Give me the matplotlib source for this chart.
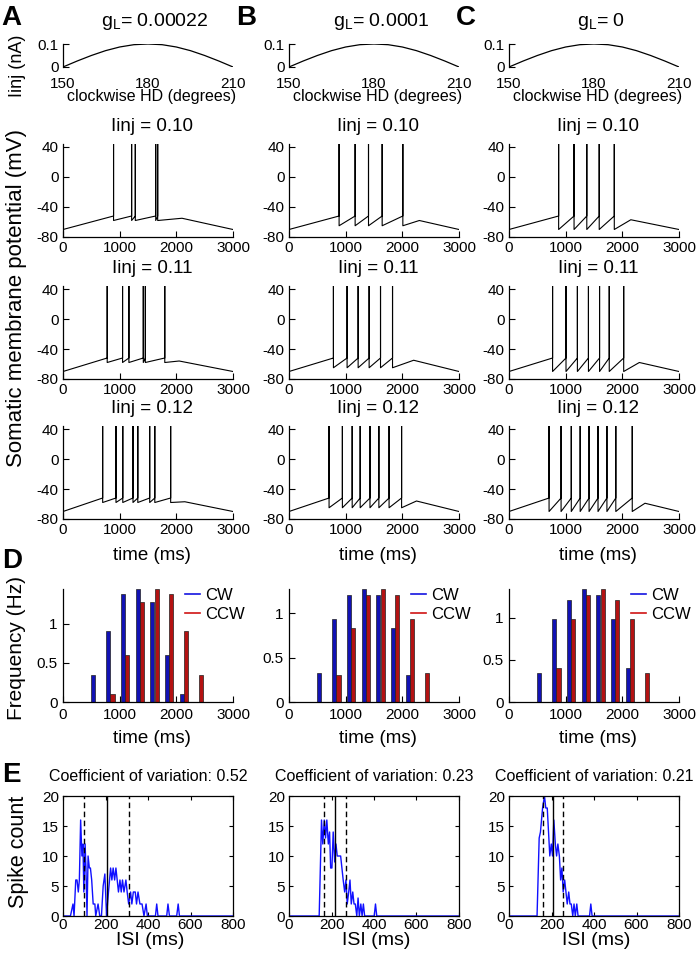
import matplotlib
matplotlib.use('Agg')
import matplotlib.pyplot as plt
from matplotlib.lines import Line2D

plt.rcParams['font.family'] = ['Liberation Sans', 'DejaVu Sans']
plt.rcParams['axes.unicode_minus'] = False

# ---------------- data ----------------
col_titles = ['g$_\\mathregular{L}$= 0.00022', 'g$_\\mathregular{L}$= 0.0001', 'g$_\\mathregular{L}$= 0']
panel_letters = ['A', 'B', 'C']
row_titles = ['Iinj = 0.10', 'Iinj = 0.11', 'Iinj = 0.12']

# injected current vs head direction
hd_deg = [150, 155, 160, 165, 170, 175, 180, 185, 190, 195, 200, 205, 210]
iinj_na = [0.0, 0.026, 0.05, 0.071, 0.087, 0.097, 0.1, 0.097, 0.087, 0.071, 0.05, 0.026, 0.0]

# spike times (ms) for each column [A, B, C], each row Iinj 0.10/0.11/0.12
spikes_a = [[892, 1211, 1276, 1636, 1671],
            [780, 1051, 1163, 1417, 1453, 1796],
            [700, 935, 1055, 1235, 1320, 1530, 1620, 1900]]
spikes_b = [[884, 1167, 1403, 1644, 2009],
            [784, 1025, 1220, 1414, 1615, 1827],
            [707, 942, 1115, 1256, 1429, 1586, 1766, 1987]]
spikes_c = [[876, 1148, 1373, 1592, 1858],
            [769, 1006, 1207, 1402, 1598, 1769, 2024],
            [707, 919, 1099, 1256, 1413, 1571, 1728, 1885, 2175]]
spikes_all = [spikes_a, spikes_b, spikes_c]

v_rest = -70
v_thr = -52
v_peak = 44
v_reset = [-58, -65, -70]            # per column
bump_t = [[2100, 2050, 2150], [2300, 2200, 2250], [2150, 2300, 2400]]
bump_v = [[-55, -56, -57], [-58, -55, -56], [-57, -58, -59]]

# firing-rate histograms (D)
bin_centers = [575, 835, 1095, 1355, 1615, 1875, 2135, 2395]
cw_a = [0.34, 0.90, 1.37, 1.44, 1.27, 0.60, 0.10, 0]
ccw_a = [0, 0.10, 0.60, 1.27, 1.44, 1.37, 0.90, 0.34]
cw_b = [0.33, 0.93, 1.20, 1.27, 1.20, 0.83, 0.30, 0]
ccw_b = [0, 0.30, 0.83, 1.20, 1.27, 1.20, 0.93, 0.33]
cw_c = [0.34, 0.98, 1.21, 1.34, 1.27, 0.98, 0.40, 0]
ccw_c = [0, 0.40, 0.98, 1.27, 1.34, 1.21, 0.98, 0.34]
cw_all = [cw_a, cw_b, cw_c]
ccw_all = [ccw_a, ccw_b, ccw_c]

# ISI histograms (E)
isi_a_x = [0, 35, 47, 52, 60, 66, 72, 77, 83, 89, 94, 98, 104, 108, 113, 118, 124, 129, 135,
           142, 150, 154, 165, 173, 181, 189, 197, 205, 214, 224, 230, 236, 243, 249, 255, 261,
           268, 274, 280, 287, 296, 302, 309, 318, 324, 331, 340, 346, 353, 362, 372, 381, 391,
           397, 435, 441, 447, 488, 494, 501, 535, 542, 548, 800]
isi_a_y = [0, 0, 2, 0, 6, 6, 4, 6, 16, 10, 12, 4, 12, 8, 0, 10, 8, 8, 6,
           2, 2, 0, 2, 0, 0, 5, 7, 0, 4, 8, 6, 8, 6, 8, 6, 4,
           6, 4, 6, 4, 6, 4, 2, 4, 2, 4, 4, 2, 4, 2, 2, 0, 2,
           0, 0, 2, 0, 0, 2, 0, 0, 2, 0, 0]
isi_b_x = [0, 142, 153, 159, 166, 172, 178, 185, 191, 196, 202, 208, 215, 221, 227, 243, 255,
           262, 268, 274, 281, 287, 293, 300, 306, 312, 319, 325, 331, 338, 344, 350, 356, 401,
           407, 413, 800]
isi_b_y = [0, 0, 16, 12, 16, 13, 16, 12, 14, 8, 8, 14, 9, 12, 10, 10, 6,
           4, 6, 2, 4, 6, 2, 4, 2, 2, 0, 3, 0, 2, 0, 2, 0, 0,
           2, 0, 0]
isi_c_x = [0, 132, 142, 148, 158, 167, 173, 180, 186, 192, 199, 205, 211, 218, 224, 230, 237,
           243, 249, 255, 262, 268, 274, 281, 287, 293, 300, 306, 312, 319, 325, 379, 385, 391, 800]
isi_c_y = [0, 0, 13, 14, 18, 20, 18, 18, 14, 10, 12, 10, 16, 12, 10, 12, 10,
           6, 8, 4, 6, 4, 2, 4, 2, 2, 0, 2, 0, 2, 0, 0, 2, 0, 0]
isi_x_all = [isi_a_x, isi_b_x, isi_c_x]
isi_y_all = [isi_a_y, isi_b_y, isi_c_y]
isi_mean = [205, 216, 208]
isi_std = [105, 50, 46]
cv_labels = ['0.52', '0.23', '0.21']

# ---------------- figure ----------------
W, H = 697, 957
fig = plt.figure(figsize=(W / 100, H / 100), dpi=100)


def add_ax(l, t, w, h):
    return fig.add_axes([l / W, 1 - (t + h) / H, w / W, h / H])


def ftext(x, y, s, **kw):
    fig.text(x / W, 1 - y / H, s, **kw)


col_left = [63, 289, 509]
col_w = 170
tick_fs = 11
blue_bar = '#1212b4'
red_bar = '#b41212'

for c in range(3):
    L = col_left[c]
    cx = L + col_w / 2

    # ---- top: injected current ----
    ax = add_ax(L, 44, col_w, 23)
    ax.plot(hd_deg, iinj_na, color='k', lw=0.9)
    ax.set_xlim(150, 210)
    ax.set_ylim(0, 0.1)
    ax.set_xticks([150, 180, 210])
    ax.set_yticks([0, 0.1])
    ax.set_yticklabels(['0', '0.1'])
    for s in ['top', 'right', 'bottom']:
        ax.spines[s].set_visible(False)
    ax.spines['left'].set_linewidth(0.9)
    ax.tick_params(axis='x', length=0, pad=7, labelsize=tick_fs)
    ax.tick_params(axis='y', direction='in', length=4, pad=3, labelsize=tick_fs)
    ax.patch.set_alpha(0)
    ftext(cx + 4, 101, 'clockwise HD (degrees)', ha='center', va='baseline', fontsize=11.5)
    ftext(cx + 7, 26, col_titles[c], ha='center', va='baseline', fontsize=14)
    ftext([1, 236, 456][c], 25, panel_letters[c], ha='left', va='baseline',
          fontsize=20, fontweight='bold')

    # ---- voltage traces ----
    for r in range(3):
        top40 = [147, 289, 429][r]
        ax = add_ax(L, top40 - 3, col_w, 93)
        tt = [0]
        vv = [v_rest]
        for s in spikes_all[c][r]:
            tt += [s, s, s]
            vv += [v_thr, v_peak, v_reset[c]]
        tt += [bump_t[c][r], 3000]
        vv += [bump_v[c][r], v_rest]
        ax.plot(tt, vv, color='k', lw=0.8)
        ax.set_xlim(0, 3000)
        ax.set_ylim(-80, 44)
        ax.set_xticks([0, 1000, 2000, 3000])
        ax.set_yticks([-80, -40, 0, 40])
        for s in ['top', 'right']:
            ax.spines[s].set_visible(False)
        for s in ['left', 'bottom']:
            ax.spines[s].set_linewidth(0.9)
        ax.tick_params(direction='in', length=4, pad=3, labelsize=tick_fs)
        ftext(cx + 4, top40 - 16, row_titles[r], ha='center', va='baseline', fontsize=13.5)
    ftext(cx + 4, 560, 'time (ms)', ha='center', va='baseline', fontsize=13.5)

    # ---- D: firing rate histograms ----
    ax = add_ax(L, 589, col_w, 113)
    xb = [b - 38 for b in bin_centers]
    xr = [b + 38 for b in bin_centers]
    ax.bar(xb, cw_all[c], width=72, color=blue_bar, edgecolor='#202020', lw=0.5)
    ax.bar(xr, ccw_all[c], width=72, color=red_bar, edgecolor='#202020', lw=0.5)
    ax.set_xlim(0, 3000)
    ax.set_ylim(0, max(cw_all[c]))
    ax.set_xticks([0, 1000, 2000, 3000])
    ax.set_yticks([0, 0.5, 1])
    ax.set_yticklabels(['0', '0.5', '1'])
    for s in ['top', 'right']:
        ax.spines[s].set_visible(False)
    for s in ['left', 'bottom']:
        ax.spines[s].set_linewidth(0.9)
    ax.tick_params(direction='in', length=4, pad=4, labelsize=tick_fs)
    handles = [Line2D([], [], color='#1414e0', lw=1.2), Line2D([], [], color='#d01414', lw=1.2)]
    ax.legend(handles, ['CW', 'CCW'], loc='upper left', bbox_to_anchor=(0.68, 1.07),
              frameon=False, fontsize=12, handlelength=0.9, handletextpad=0.3,
              labelspacing=0.25, borderaxespad=0)
    ftext(cx + 4, 743, 'time (ms)', ha='center', va='baseline', fontsize=13.5)

    # ---- E: ISI histograms ----
    ax = add_ax(L, 796, col_w, 120)
    ax.plot(isi_x_all[c], isi_y_all[c], color='#1010ff', lw=1.0)
    m = isi_mean[c]
    sd = isi_std[c]
    ax.axvline(m, color='k', lw=1.0)
    ax.axvline(m - sd, color='k', lw=1.0, ls=(0, (4, 2.5)))
    ax.axvline(m + sd, color='k', lw=1.0, ls=(0, (4, 2.5)))
    ax.set_xlim(0, 800)
    ax.set_ylim(0, 20)
    ax.set_xticks([0, 200, 400, 600, 800])
    ax.set_yticks([0, 5, 10, 15, 20])
    for s in ax.spines.values():
        s.set_linewidth(0.9)
    ax.tick_params(direction='in', length=3, labelsize=tick_fs, top=True, right=True)
    ax.tick_params(axis='x', pad=1.5)
    ax.tick_params(axis='y', pad=3)
    ftext(cx, 781, 'Coefficient of variation: ' + cv_labels[c], ha='center', va='baseline',
          fontsize=11.5)
    ftext(cx + 2, 945, 'ISI (ms)', ha='center', va='baseline', fontsize=14)

ftext(2, 568, 'D', ha='left', va='baseline', fontsize=20, fontweight='bold')
ftext(2, 782, 'E', ha='left', va='baseline', fontsize=20, fontweight='bold')

ftext(17, 66, 'Iinj (nA)', ha='center', va='center', rotation=90, fontsize=13)
ftext(17, 298, 'Somatic membrane potential (mV)', ha='center', va='center', rotation=90, fontsize=16)
ftext(17, 648, 'Frequency (Hz)', ha='center', va='center', rotation=90, fontsize=15)
ftext(19, 852, 'Spike count', ha='center', va='center', rotation=90, fontsize=15.5)

fig.savefig('out.png', dpi=100)
